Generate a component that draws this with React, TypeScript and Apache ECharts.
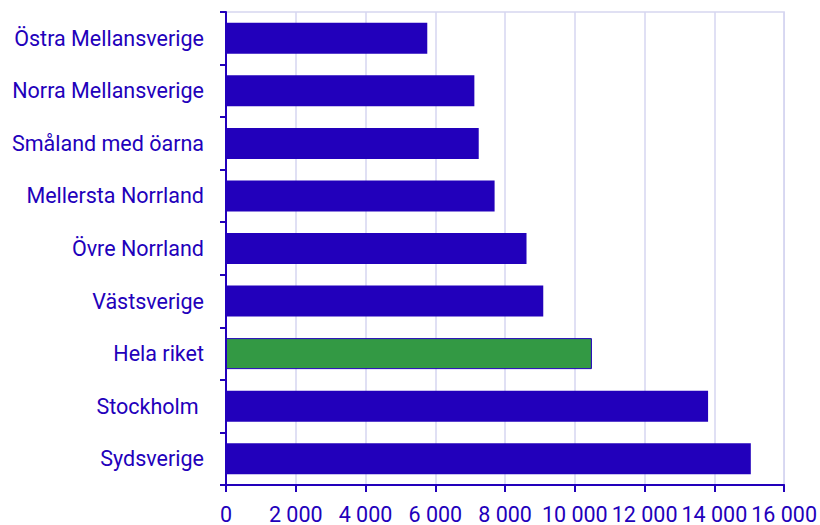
import React, { useEffect, useRef } from "react";
import * as echarts from "echarts";

const categories = [
  "Östra Mellansverige",
  "Norra Mellansverige",
  "Småland med öarna",
  "Mellersta Norrland",
  "Övre Norrland",
  "Västsverige",
  "Hela riket",
  "Stockholm ",
  "Sydsverige",
];
const values = [5770, 7120, 7245, 7700, 8615, 9095, 10490, 13820, 15045];
const highlight = "Hela riket";

const BLUE = "#2200BB";
const GREEN = "#339944";
const GRID = "#D6D6F0";

export default function App() {
  const ref = useRef<HTMLDivElement>(null);
  useEffect(() => {
    if (!ref.current) return;
    const chart = echarts.init(ref.current, null, { renderer: "svg" });
    chart.setOption({
      animation: false,
      grid: {
        left: 226,
        right: 34,
        top: 12,
        bottom: 40,
        show: true,
        borderColor: GRID,
        borderWidth: 1.5,
      },
      xAxis: {
        type: "value",
        min: 0,
        max: 16000,
        interval: 2000,
        axisLine: { show: true, lineStyle: { color: BLUE, width: 2 } },
        axisTick: { show: true, length: 7, lineStyle: { color: BLUE, width: 2 } },
        splitLine: { show: true, lineStyle: { color: GRID, width: 1.5 } },
        axisLabel: {
          color: BLUE,
          fontFamily: "Roboto",
          fontSize: 21.5,
          margin: 18,
          formatter: (v: number) => v.toLocaleString("en-US").replace(/,/g, " "),
        },
      },
      yAxis: {
        type: "category",
        inverse: true,
        data: categories,
        axisLine: { show: true, lineStyle: { color: BLUE, width: 2 } },
        axisTick: { show: true, length: 6, lineStyle: { color: BLUE, width: 2 } },
        splitLine: { show: false },
        axisLabel: {
          color: BLUE,
          fontFamily: "Roboto",
          fontSize: 21.5,
          margin: 22,
        },
      },
      series: [
        {
          type: "bar",
          barWidth: 31,
          data: categories.map((c, i) =>
            c === highlight
              ? { value: values[i], itemStyle: { color: GREEN, borderColor: BLUE, borderWidth: 1 } }
              : { value: values[i], itemStyle: { color: BLUE } }
          ),
        },
      ],
    });
    return () => chart.dispose();
  }, []);
  return <div ref={ref} style={{ width: 820, height: 525, position: "absolute", left: 0, top: 0 }} />;
}
